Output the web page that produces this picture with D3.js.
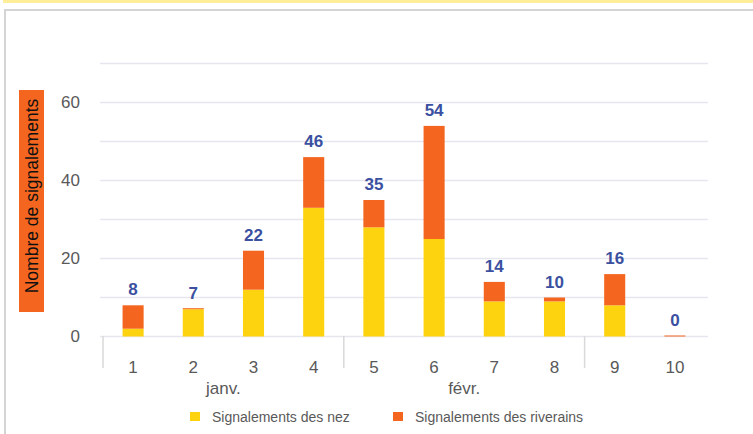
<!DOCTYPE html>
<html>
<head>
<meta charset="utf-8">
<script src="https://cdn.jsdelivr.net/npm/d3@7"></script>
<style>
  body { margin: 0; background: #fff; }
  svg { display: block; font-family: "Liberation Sans", Arial, sans-serif; }
</style>
</head>
<body>
<div id="chart"></div>
<script>
// data
const categories = ['1', '2', '3', '4', '5', '6', '7', '8', '9', '10']
const nez = [2, 7, 12, 33, 28, 25, 9, 9, 8, 0]
const riverains = [6, 0, 10, 13, 7, 29, 5, 1, 8, 0]
const totals = [8, 7, 22, 46, 35, 54, 14, 10, 16, 0]
const groups = [
  { label: 'janv.', from: '1', to: '4' },
  { label: 'févr.', from: '5', to: '8' },
  { label: '', from: '9', to: '10' }
]
const yTicks = [0, 20, 40, 60]
const gridTicks = [0, 10, 20, 30, 40, 50, 60, 70]
const seriesNames = ['Signalements des nez', 'Signalements des riverains']
const colors = ['#fdd20e', '#f4661f']

const W = 753, H = 434
const svg = d3.select('#chart').append('svg').attr('width', W).attr('height', H)

// frame
svg.append('rect').attr('x', 3).attr('y', 0).attr('width', W - 3).attr('height', 3).attr('fill', '#ffed99')
svg.append('rect').attr('x', 4).attr('y', 9).attr('width', W - 4).attr('height', 2).attr('fill', '#d4d4d4')
svg.append('rect').attr('x', 4).attr('y', 9).attr('width', 2).attr('height', H - 9).attr('fill', '#d4d4d4')

const x = d3.scaleBand().domain(categories).range([103, 705]).paddingInner(0.65).paddingOuter(0.325)
const y = d3.scaleLinear().domain([0, 70]).range([336.5, 63.5])

// gridlines
svg.append('g').selectAll('line').data(gridTicks).join('line')
  .attr('x1', 100).attr('x2', 708)
  .attr('y1', d => y(d)).attr('y2', d => y(d))
  .attr('stroke', '#e6e7ee').attr('stroke-width', 1.5)

// y tick labels
svg.append('g').selectAll('text').data(yTicks).join('text')
  .attr('x', 80).attr('y', d => y(d)).attr('dy', '0.35em')
  .attr('text-anchor', 'end').attr('fill', '#595959').attr('font-size', 17)
  .text(d => d)

// y axis title
svg.append('rect').attr('x', 19).attr('y', 90).attr('width', 25).attr('height', 222).attr('fill', colors[1])
svg.append('text')
  .attr('transform', 'translate(32, 196) rotate(-90)')
  .attr('text-anchor', 'middle').attr('dy', '0.35em')
  .attr('font-size', 17.5).attr('fill', '#111')
  .text('Nombre de signalements')

// stacked bars
const rows = categories.map((c, i) => ({ cat: c, nez: nez[i], riverains: riverains[i] }))
const stack = d3.stack().keys(['nez', 'riverains'])(rows)
svg.append('g').selectAll('g').data(stack).join('g')
  .attr('fill', (d, i) => colors[i])
  .selectAll('rect').data(d => d).join('rect')
  .attr('x', d => x(d.data.cat))
  .attr('width', x.bandwidth())
  .attr('y', d => Math.min(y(d[1]), y(d[0]) - 1))
  .attr('height', function (d) {
    const h = y(d[0]) - y(d[1])
    const key = d3.select(this.parentNode).datum().key
    return key === 'riverains' ? Math.max(h, 1) : h
  })

// total labels
svg.append('g').selectAll('text').data(totals).join('text')
  .attr('x', (d, i) => x(categories[i]) + x.bandwidth() / 2)
  .attr('y', (d, i) => y(d) - (d === 0 ? 11 : 10))
  .attr('text-anchor', 'middle')
  .attr('font-size', 17).attr('font-weight', 'bold').attr('fill', '#3b50a0')
  .text(d => d)

// x axis: separators, labels, group labels
const step = x.step()
const left = c => x(c) + x.bandwidth() / 2 - step / 2
const right = c => x(c) + x.bandwidth() / 2 + step / 2
const sepX = [left('1'), left('5'), left('9')]
svg.append('g').selectAll('line').data(sepX).join('line')
  .attr('x1', d => d).attr('x2', d => d)
  .attr('y1', 336).attr('y2', 368)
  .attr('stroke', '#d9d9d9').attr('stroke-width', 1.5)

svg.append('g').selectAll('text').data(categories).join('text')
  .attr('x', d => x(d) + x.bandwidth() / 2).attr('y', 367).attr('dy', '0.35em')
  .attr('text-anchor', 'middle').attr('font-size', 17).attr('fill', '#595959')
  .text(d => d)

svg.append('g').selectAll('text').data(groups).join('text')
  .attr('x', g => (left(g.from) + right(g.to)) / 2).attr('y', 388).attr('dy', '0.35em')
  .attr('text-anchor', 'middle').attr('font-size', 17).attr('fill', '#595959')
  .text(g => g.label)

// legend
const legendX = [190, 393]
const legend = svg.append('g').selectAll('g').data(seriesNames).join('g')
  .attr('transform', (d, i) => `translate(${legendX[i]}, 412)`)
legend.append('rect').attr('width', 10).attr('height', 9).attr('fill', (d, i) => colors[i])
legend.append('text').attr('x', 22).attr('y', 5).attr('dy', '0.35em')
  .attr('font-size', 14).attr('fill', '#595959').text(d => d)
</script>
</body>
</html>
